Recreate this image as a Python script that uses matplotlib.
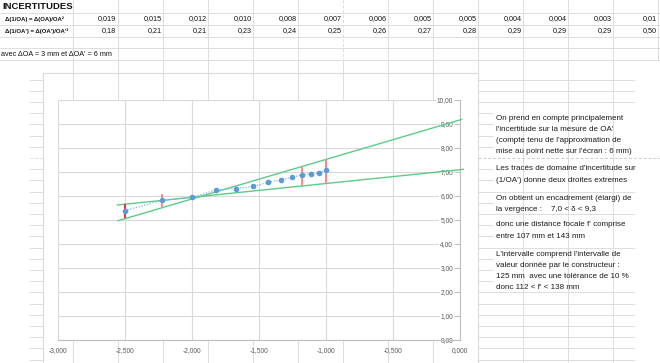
import matplotlib
matplotlib.use('Agg')
import matplotlib.pyplot as plt
from matplotlib.patches import Rectangle
from matplotlib.ticker import FuncFormatter, MultipleLocator

plt.rcParams['font.family'] = ['Liberation Sans', 'DejaVu Sans']

# mesures : 1/OA (m-1) et 1/OA' (m-1)
inv_oa = [-2.50, -2.22, -2.00, -1.82, -1.67, -1.54, -1.43, -1.33, -1.25, -1.18, -1.11, -1.05, -1.00]
inv_oa_p = [5.39, 5.82, 5.94, 6.25, 6.31, 6.40, 6.57, 6.67, 6.78, 6.88, 6.92, 6.97, 7.08]

# barres d'incertitude tracees
err_x = [-2.50, -2.22, -1.18, -1.00]
err_lo = [5.07, 5.53, 6.43, 6.51]
err_hi = [5.65, 6.07, 7.22, 7.54]
err_colors = ['#F21D1D', '#FF8080', '#FF8080', '#FF8080']

# droites extremes
droite_max_x = [-2.55, 0.015]
droite_max_y = [4.97, 9.19]
droite_min_x = [-2.555, 0.027]
droite_min_y = [5.625, 7.11]

# tableau des incertitudes
delta_inv_oa = ['0,019', '0,015', '0,012', '0,010', '0,008', '0,007', '0,006',
                '0,005', '0,005', '0,004', '0,004', '0,003', '0,01']
delta_inv_oap = ['0,18', '0,21', '0,21', '0,23', '0,24', '0,25', '0,26',
                 '0,27', '0,28', '0,29', '0,29', '0,29', '0,50']

paragraphes = [
    ["On prend en compte principalement",
     "l'incertitude sur la mesure de OA'",
     "(compte tenu de l'approximation de",
     "mise au point nette sur l'écran : 6 mm)"],
    ["Les tracés de domaine d'incertitude sur",
     "(1/OA') donne deux droites extremes"],
    ["On obtient un encadrement (élargi) de",
     "la vergence :    7,0 < δ < 9,3"],
    ["donc une distance focale f' comprise",
     "entre 107 mm et 143 mm"],
    ["L'intervalle comprend l'intervalle de",
     "valeur donnée par le constructeur :",
     "125 mm  avec une tolérance de 10 %",
     "donc 112 < f' < 138 mm"],
]
para_top = [118, 169, 198, 225, 254]

W, H = 660, 363
fig = plt.figure(figsize=(W / 100, H / 100), dpi=100, facecolor='white')

# ---- fond tableur ----
bg = fig.add_axes([0, 0, 1, 1])
bg.set_xlim(0, W)
bg.set_ylim(H, 0)
bg.axis('off')
grid_c = '#DDDDDD'
lw = 0.7

cols = [73] + [118 + 45 * k for k in range(13)]
for y in [12.7, 25, 36.7, 48.3, 59.5]:
    bg.plot([0, W], [y, y], color=grid_c, lw=lw)
for x in cols:
    ls = (0, (3, 2)) if abs(x - 343) < 1 else '-'
    bg.plot([x, x], [0, 59.5], color=grid_c, lw=lw, ls=ls)
for x in cols[:-1]:
    bg.plot([x, x], [59.5, H], color=grid_c, lw=lw)

rows = [79.5 + 11.2 * k for k in range(26)]
for k, y in enumerate(rows):
    ls = (0, (3, 2)) if k == 7 else '-'
    bg.plot([30, 43], [y, y], color=grid_c, lw=lw, ls=ls)
    if k <= 2:
        bg.plot([478, 634], [y, y], color=grid_c, lw=lw)
    elif k == 7:
        bg.plot([478, W], [y, y], color='#CCCCCC', lw=lw, ls=ls)
    elif k in (10, 12, 15) or k >= 19:
        bg.plot([478, 634], [y, y], color=grid_c, lw=lw)
    else:
        bg.plot([478, 493], [y, y], color=grid_c, lw=lw)

bg.add_patch(Rectangle((43, 73.3), 435, 300, facecolor='white',
                       edgecolor='#D9D9D9', lw=0.8))

bg.text(2, 6.5, 'INCERTITUDES', fontsize=6.8, fontweight='bold', va='center', color='#111111')
bg.text(5, 18.8, 'Δ(1/OA) = Δ(OA)/OA²', fontsize=4.3, fontweight='bold', va='center', color='#111111')
bg.text(5, 30.8, "Δ(1/OA') = Δ(OA')/OA'²", fontsize=4.3, fontweight='bold', va='center', color='#111111')
for x, a, b in zip(cols[1:], delta_inv_oa, delta_inv_oap):
    bg.text(x - 1.5, 18.8, a, fontsize=5.2, ha='right', va='center', color='#111111')
    bg.text(x - 1.5, 30.8, b, fontsize=5.2, ha='right', va='center', color='#111111')
bg.text(1, 54, "avec ΔOA = 3 mm et ΔOA' = 6 mm", fontsize=5.2, va='center', color='#111111')

for top, lines in zip(para_top, paragraphes):
    for i, line in enumerate(lines):
        bg.text(496, top + i * 11.2, line, fontsize=5.8, va='center', color='#1A1A1A')

# ---- graphique ----
ax = fig.add_axes([57.7 / W, 23 / H, 402 / W, 240 / H])
ax.set_xlim(-3, 0)
ax.set_ylim(0, 10)
ax.xaxis.set_major_locator(MultipleLocator(0.5))
ax.set_yticks(range(11))
ax.xaxis.set_major_formatter(FuncFormatter(lambda v, p: f'{v:.3f}'.replace('.', ',')))
ax.yaxis.set_major_formatter(FuncFormatter(lambda v, p: f'{v:.2f}'.replace('.', ',')))
ax.grid(True, color='#D9D9D9', lw=0.8)
ax.set_axisbelow(True)
for s in ['top', 'right']:
    ax.spines[s].set_visible(False)
ax.spines['left'].set_position(('data', 0))
ax.spines['left'].set_color('#BFBFBF')
ax.spines['bottom'].set_color('#BFBFBF')
ax.tick_params(axis='y', length=3.5, width=0.7, color='#BFBFBF', labelsize=4.8,
               labelcolor='#595959', pad=1.2)
ax.tick_params(axis='x', length=0, labelsize=4.8, labelcolor='#595959', pad=5)
for t in ax.get_yticklabels():
    t.set_bbox(dict(facecolor='white', edgecolor='none', pad=0.6))

ax.plot(droite_max_x, droite_max_y, color='#5CCB8A', lw=1, clip_on=False, zorder=3)
ax.plot(droite_min_x, droite_min_y, color='#5CCB8A', lw=1, clip_on=False, zorder=3)
ax.vlines(err_x, err_lo, err_hi, colors=err_colors, lw=1.3, zorder=4)
ax.plot(inv_oa, inv_oa_p, color='#7FB2E0', lw=0.9, ls=(0, (1, 1.3)), zorder=5)
ax.plot(inv_oa, inv_oa_p, ls='none', marker='o', ms=3, color='#5B9BD5', zorder=6)

fig.savefig('out.png', dpi=100)
